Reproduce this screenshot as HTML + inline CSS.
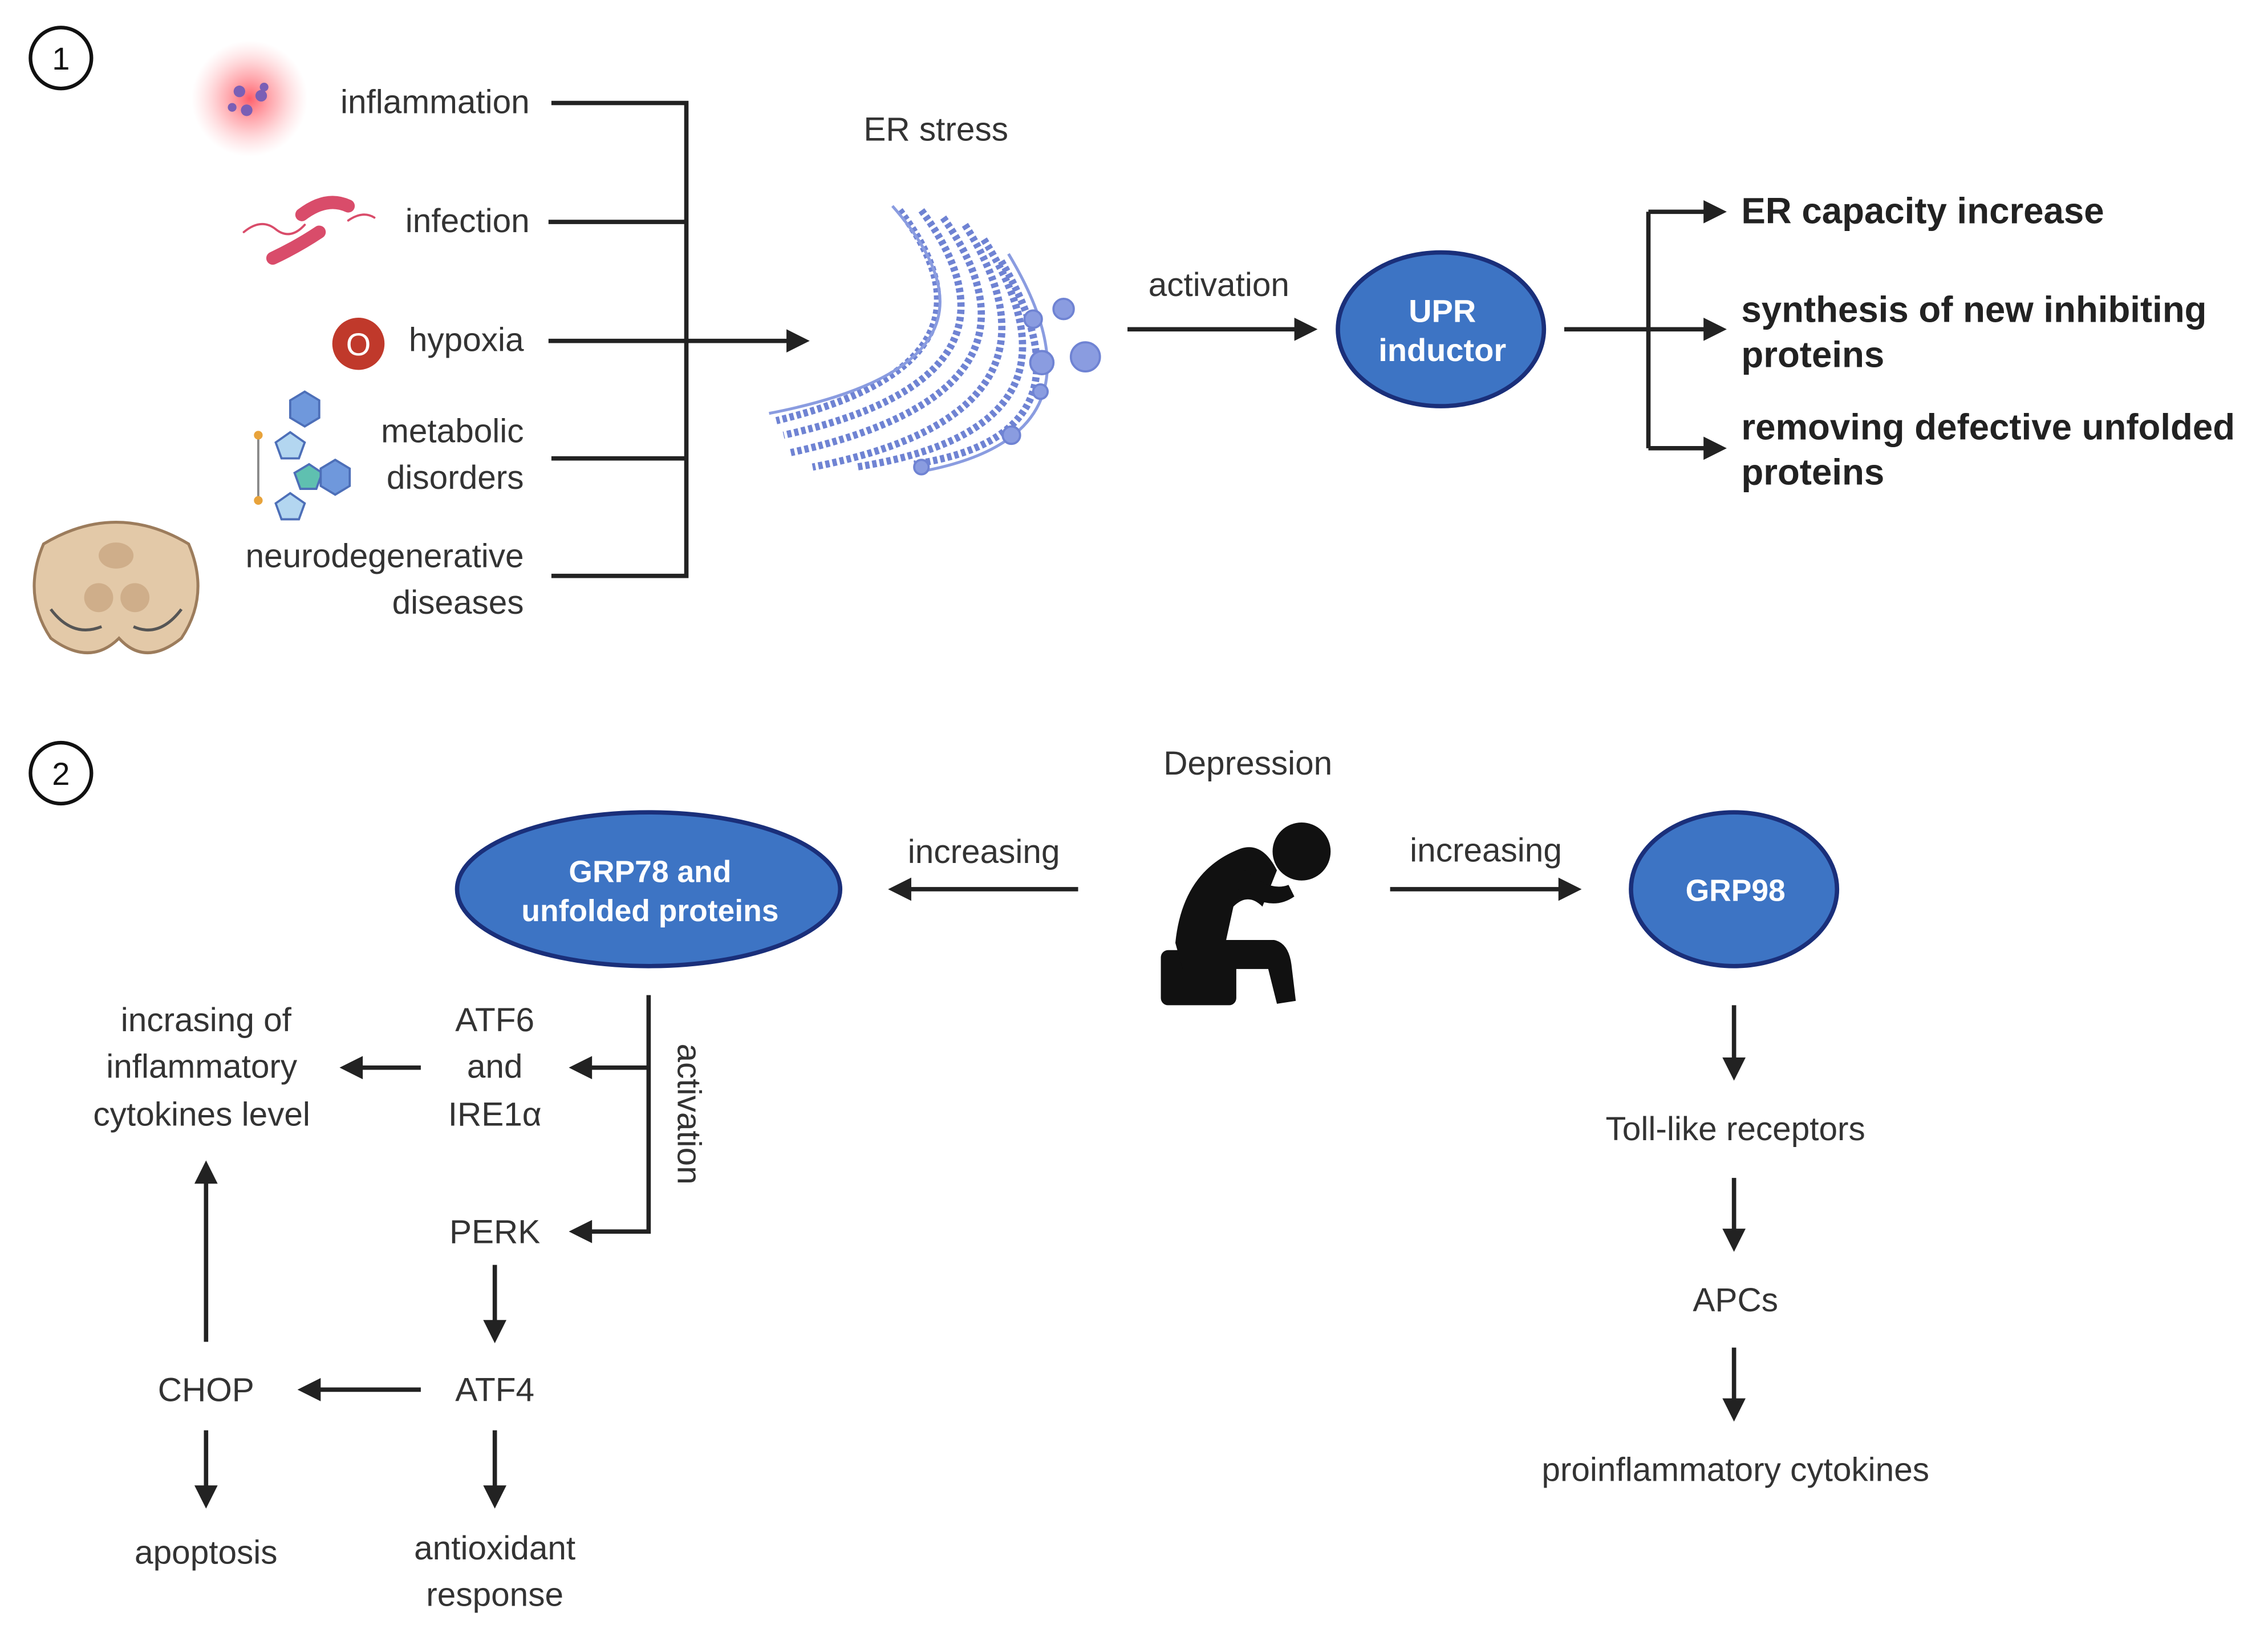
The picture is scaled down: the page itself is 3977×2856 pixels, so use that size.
<!DOCTYPE html>
<html><head><meta charset="utf-8"><style>
html,body{margin:0;padding:0;background:#fff;}
svg{display:block;}
text{font-family:"Liberation Sans",sans-serif;}
</style></head><body>
<svg width="3977" height="2856" viewBox="0 0 1563 1123" preserveAspectRatio="none" xmlns="http://www.w3.org/2000/svg">
<defs>
<radialGradient id="glow"><stop offset="0" stop-color="#ff4d5a" stop-opacity="0.9"/><stop offset="0.5" stop-color="#ff8088" stop-opacity="0.5"/><stop offset="1" stop-color="#ffb0b5" stop-opacity="0"/></radialGradient>
</defs>
<rect width="1563" height="1123" fill="#fff"/>
<g fill="none" stroke="#111" stroke-width="2.5">
<circle cx="42" cy="40" r="21"/><circle cx="42" cy="533" r="21"/>
</g>
<text x="42" y="48" font-size="22" text-anchor="middle" fill="#111">1</text>
<text x="42" y="541" font-size="22" text-anchor="middle" fill="#111">2</text>

<g font-size="23" text-anchor="end" fill="#333">
<text x="365" y="78">inflammation</text>
<text x="365" y="160">infection</text>
<text x="361" y="242">hypoxia</text>
<text x="361" y="305">metabolic</text>
<text x="361" y="337">disorders</text>
<text x="361" y="391">neurodegenerative</text>
<text x="361" y="423">diseases</text>
</g>
<g stroke="#222" stroke-width="3" fill="none">
<path d="M380 71H473V397H380M378 153H473M378 235H545M380 316H473"/>
<path d="M777 227H895M1078 227H1136M1136 146V309M1136 146H1178M1136 227H1178M1136 309H1178"/>
</g>
<g fill="#222">
<polygon points="558,235 542,227 542,243"/>
<polygon points="908,227 892,219 892,235"/>
<polygon points="1190,146 1174,138 1174,154"/>
<polygon points="1190,227 1174,219 1174,235"/>
<polygon points="1190,309 1174,301 1174,317"/>
</g>
<text x="645" y="97" font-size="23" text-anchor="middle" fill="#333">ER stress</text>
<text x="840" y="204" font-size="23" text-anchor="middle" fill="#333">activation</text>

<g fill="none" stroke="#6f83d3" stroke-width="5" stroke-dasharray="3 2">
<path d="M620 145 Q700 250 535 290"/>
<path d="M635 145 Q720 260 540 300"/>
<path d="M650 150 Q735 270 545 312"/>
<path d="M665 155 Q748 285 560 322"/>
<path d="M678 165 Q760 295 590 322"/>
<path d="M690 180 Q760 300 630 320"/>
</g>
<g fill="none" stroke="#8a9ce0" stroke-width="2">
<path d="M615 142 Q710 250 530 285"/>
<path d="M695 175 Q770 300 635 325"/>
</g>
<g fill="#8a9ce0" stroke="#6f83d3" stroke-width="1.5">
<circle cx="733" cy="213" r="7"/><circle cx="748" cy="246" r="10"/><circle cx="718" cy="250" r="8"/>
<circle cx="712" cy="220" r="6"/><circle cx="717" cy="270" r="5"/><circle cx="697" cy="300" r="6"/><circle cx="635" cy="322" r="5"/>
</g>

<ellipse cx="993" cy="227" rx="71" ry="53" fill="#3d74c4" stroke="#1a2f7a" stroke-width="3"/>
<text x="994" y="222" font-size="22" font-weight="bold" text-anchor="middle" fill="#fff">UPR</text>
<text x="994" y="249" font-size="22" font-weight="bold" text-anchor="middle" fill="#fff">inductor</text>

<g font-size="25" font-weight="bold" fill="#222">
<text x="1200" y="154">ER capacity increase</text>
<text x="1200" y="222">synthesis of new inhibiting</text>
<text x="1200" y="253">proteins</text>
<text x="1200" y="303">removing defective unfolded</text>
<text x="1200" y="334">proteins</text>
</g>

<circle cx="172" cy="68" r="40" fill="url(#glow)"/>
<g fill="#7a5fb5"><circle cx="165" cy="63" r="4"/><circle cx="180" cy="66" r="4"/><circle cx="170" cy="76" r="4"/><circle cx="160" cy="74" r="3"/><circle cx="182" cy="60" r="3"/></g>
<g fill="none" stroke="#d94c6a" stroke-linecap="round">
<path d="M208 148 Q225 135 240 142" stroke-width="9"/>
<path d="M188 178 Q205 170 220 160" stroke-width="9"/>
<path d="M168 160 Q180 150 190 158 T210 155" stroke-width="1.5"/>
<path d="M240 152 Q250 145 258 150" stroke-width="1.5"/>
</g>
<circle cx="247" cy="237" r="18" fill="#c0392b"/>
<text x="247" y="245" font-size="22" text-anchor="middle" fill="#fff">O</text>
<g stroke="#4d6fb8" stroke-width="1.5">
<polygon points="210,270 220,276 220,288 210,294 200,288 200,276" fill="#6f98dc"/>
<polygon points="200,298 210,305 206,316 194,316 190,305" fill="#b3d6f0"/>
<polygon points="213,320 222,326 218,337 207,337 203,326" fill="#5fc0b0"/>
<polygon points="231,317 241,323 241,335 231,341 221,335 221,323" fill="#6f98dc"/>
<polygon points="200,340 210,347 206,358 194,358 190,347" fill="#b3d6f0"/>
<path d="M178 300V345" fill="none" stroke="#888"/>
</g>
<circle cx="178" cy="300" r="3" fill="#e8a33b"/><circle cx="178" cy="345" r="3" fill="#e8a33b"/>
<g>
<path d="M30 375 Q80 345 130 375 Q145 410 125 440 Q100 460 82 440 Q62 460 35 440 Q15 410 30 375Z" fill="#e3c9a8" stroke="#9c7c5c" stroke-width="2"/>
<circle cx="68" cy="412" r="10" fill="#cfae8a"/><circle cx="93" cy="412" r="10" fill="#cfae8a"/>
<ellipse cx="80" cy="383" rx="12" ry="9" fill="#cfae8a"/>
<path d="M35 420 Q50 440 70 432 M125 420 Q110 440 92 432" fill="none" stroke="#555" stroke-width="2"/>
</g>

<text x="860" y="534" font-size="23" text-anchor="middle" fill="#333">Depression</text>
<ellipse cx="447" cy="613" rx="132" ry="53" fill="#3d74c4" stroke="#1a2f7a" stroke-width="3"/>
<text x="448" y="608" font-size="21" font-weight="bold" text-anchor="middle" fill="#fff">GRP78 and</text>
<text x="448" y="635" font-size="21" font-weight="bold" text-anchor="middle" fill="#fff">unfolded proteins</text>
<ellipse cx="1195" cy="613" rx="71" ry="53" fill="#3d74c4" stroke="#1a2f7a" stroke-width="3"/>
<text x="1196" y="621" font-size="21" font-weight="bold" text-anchor="middle" fill="#fff">GRP98</text>
<text x="678" y="595" font-size="23" text-anchor="middle" fill="#333">increasing</text>
<text x="1024" y="594" font-size="23" text-anchor="middle" fill="#333">increasing</text>

<g fill="#111">
<circle cx="897" cy="587" r="20"/>
<rect x="800" y="655" width="52" height="38" rx="5"/>
<path d="M810 650 Q815 600 855 585 Q870 580 880 600 L870 625 Q860 615 850 625 L845 648 L878 648 Q888 650 890 665 L893 690 L880 692 L874 668 L815 668Z"/>
<path d="M858 600 Q875 615 888 610 L892 618 Q875 630 852 612Z"/>
</g>

<g stroke="#222" stroke-width="3" fill="none">
<path d="M743 613H625M958 613H1077"/>
<path d="M1195 693V732M1195 812V850M1195 929V967"/>
<path d="M447 686V849H405M447 736H405M290 736H247M341 872V913M290 958H218M142 925V813M142 986V1027M341 986V1027"/>
</g>
<g fill="#222">
<polygon points="612,613 628,605 628,621"/>
<polygon points="1090,613 1074,605 1074,621"/>
<polygon points="1195,745 1187,729 1203,729"/>
<polygon points="1195,863 1187,847 1203,847"/>
<polygon points="1195,980 1187,964 1203,964"/>
<polygon points="392,736 408,728 408,744"/>
<polygon points="392,849 408,841 408,857"/>
<polygon points="234,736 250,728 250,744"/>
<polygon points="341,926 333,910 349,910"/>
<polygon points="205,958 221,950 221,966"/>
<polygon points="142,800 134,816 150,816"/>
<polygon points="142,1040 134,1024 150,1024"/>
<polygon points="341,1040 333,1024 349,1024"/>
</g>
<text x="0" y="0" font-size="23" text-anchor="middle" fill="#333" transform="translate(467,768) rotate(90)">activation</text>
<g font-size="23" text-anchor="middle" fill="#333">
<text x="1196" y="786">Toll-like receptors</text>
<text x="1196" y="904">APCs</text>
<text x="1196" y="1021">proinflammatory cytokines</text>
<text x="341" y="711">ATF6</text>
<text x="341" y="743">and</text>
<text x="341" y="776">IRE1α</text>
<text x="142" y="711">incrasing of</text>
<text x="139" y="743">inflammatory</text>
<text x="139" y="776">cytokines level</text>
<text x="341" y="857">PERK</text>
<text x="341" y="966">ATF4</text>
<text x="142" y="966">CHOP</text>
<text x="142" y="1078">apoptosis</text>
<text x="341" y="1075">antioxidant</text>
<text x="341" y="1107">response</text>
</g>
</svg>
</body></html>
